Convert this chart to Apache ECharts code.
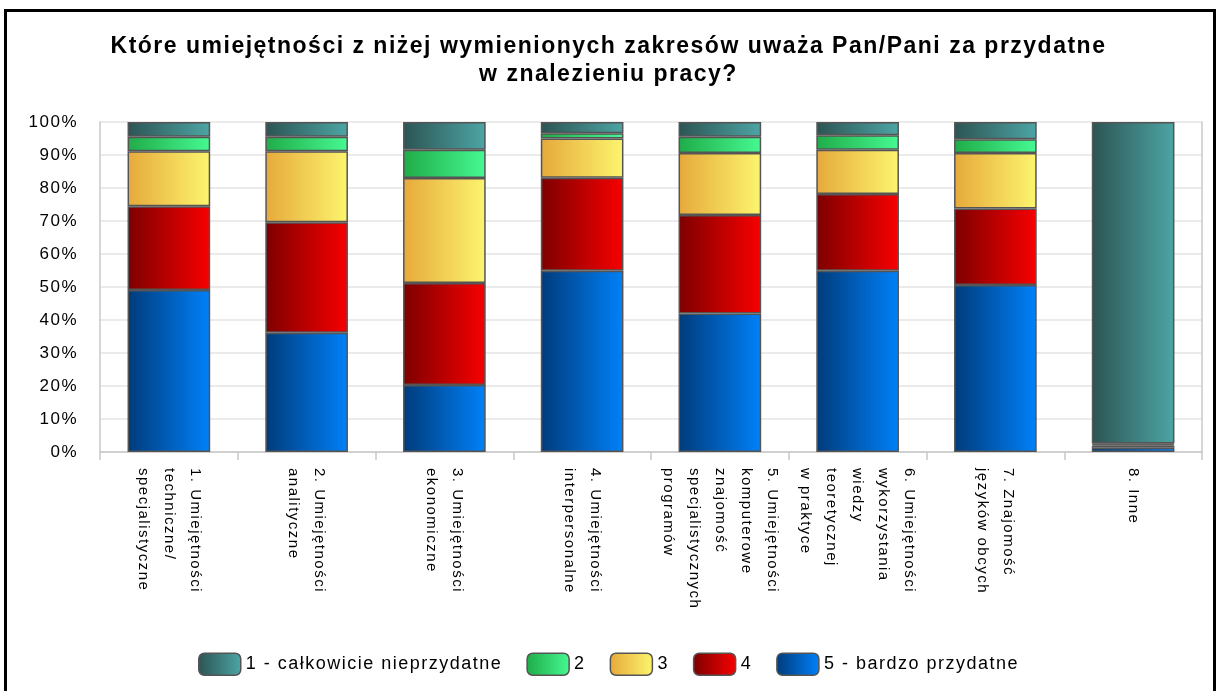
<!DOCTYPE html>
<html>
<head>
<meta charset="utf-8">
<script src="https://cdn.jsdelivr.net/npm/echarts@6/dist/echarts.min.js"></script>
<style>
  html, body { margin: 0; padding: 0; background: #fff; }
  #chart { width: 1217px; height: 691px; }
</style>
</head>
<body>
<div id="chart"></div>
<script>
// Survey: how useful each skill area is for finding a job (share of answers, %)
const categories = [
  '1. Umiejętności\ntechniczne/\nspecjalistyczne',
  '2. Umiejętności\nanalityczne',
  '3. Umiejętności\nekonomiczne',
  '4. Umiejętności\ninterpersonalne',
  '5. Umiejętności\nkomputerowe\nznajomość\nspecjalistycznych\nprogramów',
  '6. Umiejętności\nwykorzystania\nwiedzy\nteoretycznej\nw praktyce',
  '7. Znajomość\njęzyków obcych',
  '8. Inne'
];

const seriesNames = ['1 - całkowicie nieprzydatne', '2', '3', '4', '5 - bardzo przydatne'];

const rating5 = [49.1, 36.1, 20.3, 54.9, 42.0, 54.9, 50.6, 1.3];
const rating4 = [25.4, 33.5, 30.9, 28.2, 29.8, 23.3, 23.2, 0.6];
const rating3 = [16.6, 21.5, 31.8, 11.9, 18.8, 13.4, 16.8, 0.4];
const rating2 = [4.4, 4.4, 8.6, 1.6, 4.9, 4.4, 4.2, 0.3];
const rating1 = [4.5, 4.5, 8.4, 3.4, 4.5, 4.0, 5.2, 97.4];

const yTicks = [0, 10, 20, 30, 40, 50, 60, 70, 80, 90, 100];

const FONT = '"Liberation Sans", Arial, sans-serif';

// Slightly looser tracking for all canvas text (measuring and drawing alike)
(function () {
  const proto = CanvasRenderingContext2D.prototype;
  const desc = Object.getOwnPropertyDescriptor(proto, 'font');
  if (desc && 'letterSpacing' in proto) {
    Object.defineProperty(proto, 'font', {
      configurable: true,
      get() { return desc.get.call(this); },
      set(v) { desc.set.call(this, v); this.letterSpacing = '1.5px'; }
    });
  }
})();

function hGrad(left, right) {
  return new echarts.graphic.LinearGradient(0, 0, 1, 0, [
    { offset: 0, color: left },
    { offset: 1, color: right }
  ]);
}

const fills = {
  '1 - całkowicie nieprzydatne': hGrad('#2c5453', '#4da5a5'),
  '2': hGrad('#1fac48', '#46f992'),
  '3': hGrad('#e6a93b', '#fcf56e'),
  '4': hGrad('#7d0000', '#f80000'),
  '5 - bardzo przydatne': hGrad('#003b7a', '#0081f9')
};

// stacked bottom-to-top: 5, 4, 3, 2, 1
const stackOrder = [
  ['5 - bardzo przydatne', rating5],
  ['4', rating4],
  ['3', rating3],
  ['2', rating2],
  ['1 - całkowicie nieprzydatne', rating1]
];

const chart = echarts.init(document.getElementById('chart'), null, { renderer: 'canvas' });

chart.setOption({
  animation: false,
  backgroundColor: '#ffffff',
  graphic: [{
    type: 'rect',
    silent: true,
    z: 100,
    shape: { x: 5.5, y: 10.5, width: 1209, height: 720 },
    style: { fill: 'none', stroke: '#000', lineWidth: 3 }
  }],
  title: {
    text: 'Które umiejętności z niżej wymienionych zakresów uważa Pan/Pani za przydatne\nw znalezieniu pracy?',
    left: 'center',
    top: 28,
    textStyle: {
      fontFamily: FONT,
      fontSize: 23,
      fontWeight: 'bold',
      color: '#000',
      lineHeight: 28
    }
  },
  legend: {
    data: seriesNames,
    bottom: 10,
    left: 'center',
    itemWidth: 42,
    itemHeight: 22,
    itemGap: 24,
    textStyle: { fontFamily: FONT, fontSize: 18, color: '#000' },
    itemStyle: { borderColor: '#555', borderWidth: 1.5 }
  },
  grid: { left: 100, right: 15, top: 122, bottom: 239 },
  xAxis: {
    type: 'category',
    data: categories,
    axisLine: { lineStyle: { color: '#c8c8c8', width: 1.5 } },
    axisTick: { show: true, length: 8, lineStyle: { color: '#c8c8c8', width: 1.5 } },
    axisLabel: {
      interval: 0,
      rotate: -90,
      margin: 16,
      fontFamily: FONT,
      fontSize: 15,
      lineHeight: 26,
      color: '#000'
    }
  },
  yAxis: [{
    type: 'value',
    min: 0,
    max: 100,
    interval: 10,
    axisLine: { show: true, lineStyle: { color: '#c8c8c8', width: 1.5 } },
    axisTick: { show: false },
    splitLine: { lineStyle: { color: '#e4e4e4', width: 1.5 } },
    axisLabel: {
      margin: 22,
      fontFamily: FONT,
      fontSize: 17,
      color: '#000',
      formatter: v => (yTicks.includes(v) ? v + '%' : '')
    }
  }, {
    type: 'value',
    position: 'right',
    min: 0,
    max: 100,
    interval: 10,
    axisLine: { show: true, lineStyle: { color: '#c8c8c8', width: 1.5 } },
    axisTick: { show: false },
    axisLabel: { show: false },
    splitLine: { show: false }
  }],
  series: stackOrder.map(([name, values]) => ({
    name: name,
    type: 'bar',
    stack: 'share',
    barWidth: '60%',
    data: values,
    itemStyle: {
      color: fills[name],
      borderColor: '#555',
      borderWidth: 1.5
    }
  }))
});
</script>
</body>
</html>
